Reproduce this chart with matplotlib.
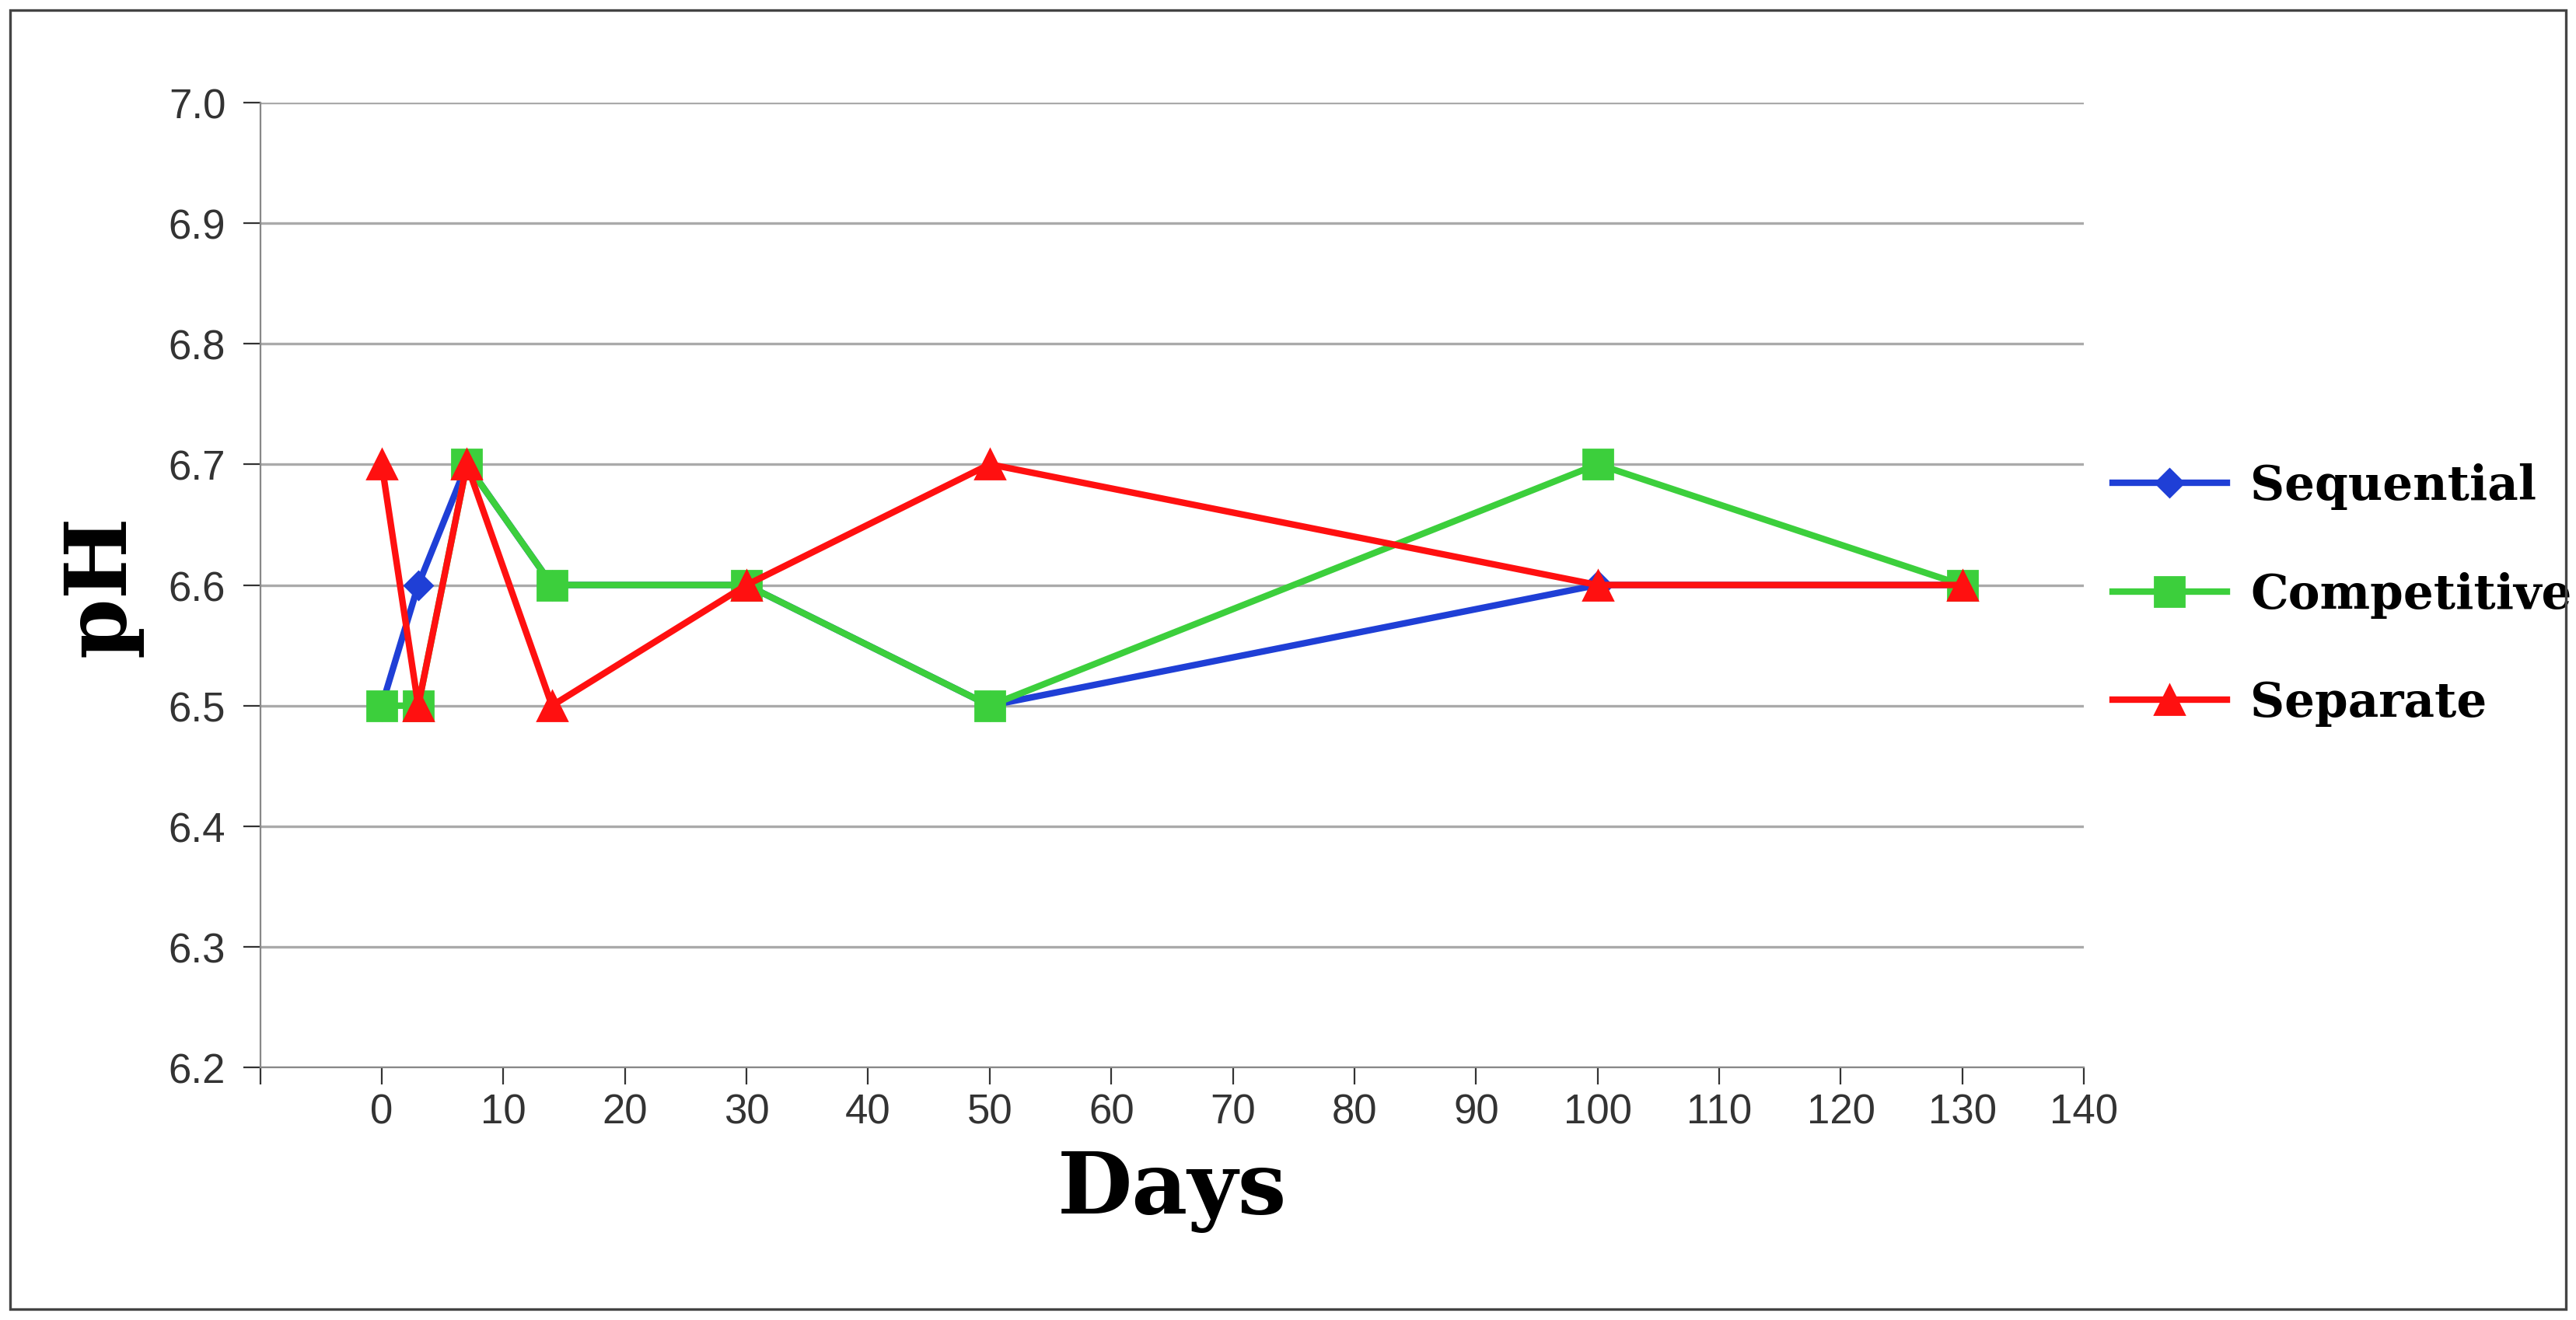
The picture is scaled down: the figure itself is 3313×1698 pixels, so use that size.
import matplotlib
matplotlib.use("Agg")
import matplotlib.pyplot as plt
from matplotlib.patches import Rectangle

days = [0, 3, 7, 14, 30, 50, 100, 130]
sequential = [6.5, 6.6, 6.7, 6.6, 6.6, 6.5, 6.6, 6.6]
competitive = [6.5, 6.5, 6.7, 6.6, 6.6, 6.5, 6.7, 6.6]
separate = [6.7, 6.5, 6.7, 6.5, 6.6, 6.7, 6.6, 6.6]
x_ticks = list(range(0, 141, 10))
y_ticks = [6.2, 6.3, 6.4, 6.5, 6.6, 6.7, 6.8, 6.9, 7.0]

fig = plt.figure(figsize=(16.565, 8.495), dpi=200)
fig.patches.append(Rectangle((0.004, 0.008), 0.992, 0.984, transform=fig.transFigure,
                             fill=False, edgecolor="#444444", linewidth=1.2))
ax = fig.add_axes([0.101, 0.191, 0.708, 0.731])

ax.plot(days, sequential, color="#1f3fd6", marker="D", markersize=9, lw=3, label="Sequential", zorder=3)
ax.plot(days, competitive, color="#3ccf3c", marker="s", markersize=14, lw=3, label="Competitive", zorder=4)
ax.plot(days, separate, color="#ff1010", marker="^", markersize=14, lw=3, label="Separate", zorder=5)

ax.set_xlim(-10, 140)
ax.set_ylim(6.2, 7.0)
ax.set_xticks([-10] + x_ticks)
ax.set_xticklabels([""] + [str(t) for t in x_ticks])
ax.set_yticks(y_ticks)
ax.set_yticklabels([f"{t:.1f}" for t in y_ticks])
ax.grid(axis="y", color="#aaaaaa", lw=1.2)
ax.set_axisbelow(True)
for s in ["top", "right"]:
    ax.spines[s].set_visible(False)
for s in ["left", "bottom"]:
    ax.spines[s].set_color("#888888")
ax.tick_params(axis="both", labelsize=19, colors="#333333", length=8, direction="out")
ax.tick_params(axis="y", length=8, pad=8)
for lab in ax.get_xticklabels() + ax.get_yticklabels():
    lab.set_fontfamily("Liberation Sans")

ax.set_xlabel("Days", fontsize=40, fontweight="bold", family="DejaVu Serif", labelpad=8)
ax.set_ylabel("pH", fontsize=40, fontweight="bold", family="DejaVu Serif", labelpad=12)

leg = ax.legend(loc="center left", bbox_to_anchor=(1.0, 0.49), frameon=False,
                prop={"family": "DejaVu Serif", "weight": "bold", "size": 22},
                handlelength=2.4, handletextpad=0.5, labelspacing=1.3, borderaxespad=0.2)

fig.savefig("out.png", dpi=200)
